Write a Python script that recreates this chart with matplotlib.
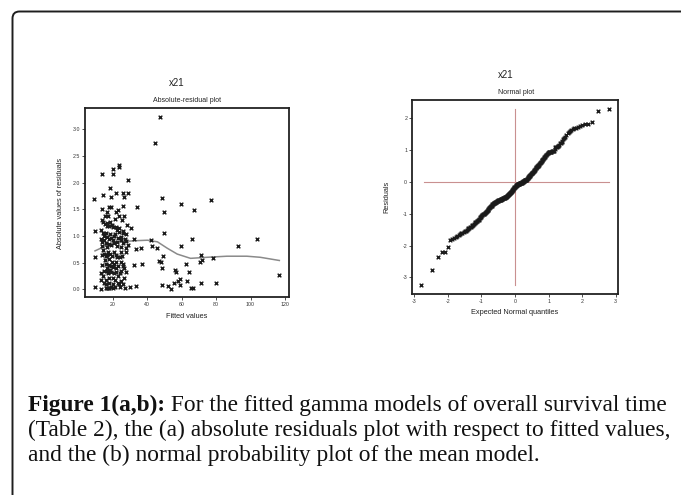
import matplotlib
matplotlib.use("Agg")
import matplotlib.pyplot as plt
from matplotlib.path import Path
from matplotlib.patches import PathPatch
from statistics import NormalDist

# ---------------- data: (a) absolute residuals vs fitted values ----------------
fitted_values = [
    47.5, 44.8, 9.4, 77.1, 48.5, 59.4, 50.0, 67.3, 34.4, 49.6,
    28.7, 23.5, 23.8, 20.2, 20.4, 14.0, 18.5, 14.4, 19.2, 21.9,
    26.3, 29.2, 26.7, 26.3, 18.1, 19.0, 14.0, 22.9, 21.9, 16.7,
    15.4, 17.1, 26.7, 23.5, 21.5, 13.8, 14.6, 18.7, 25.6, 18.1,
    16.9, 28.5, 30.6, 13.1, 10.0, 20.4, 21.9, 14.4, 16.2, 18.3,
    21.2, 23.5, 25.8, 27.9, 13.3, 13.7, 15.2, 17.7, 20.2, 22.3,
    24.8, 27.7, 32.3, 42.5, 59.4, 65.8, 92.7, 104.0, 16.5, 19.0,
    24.8, 28.7, 42.9, 46.0, 36.3, 33.7, 14.6, 17.1, 21.0, 24.8,
    27.7, 13.8, 16.2, 18.7, 21.9, 24.4, 10.0, 49.2, 71.3, 78.5,
    15.4, 17.9, 19.4, 21.9, 24.8, 47.1, 48.1, 71.9, 70.4, 14.0,
    17.7, 21.0, 26.3, 32.3, 37.1, 62.7, 16.5, 18.7, 21.9, 26.7,
    48.5, 56.0, 13.5, 17.5, 21.0, 24.4, 27.7, 56.5, 64.4, 14.4,
    17.7, 20.0, 22.9, 26.7, 59.2, 13.5, 16.3, 21.3, 24.8, 57.7,
    63.3, 116.7, 9.8, 13.0, 16.7, 17.5, 19.0, 21.5, 24.2, 30.0,
    33.5, 48.8, 51.9, 53.7, 55.6, 59.0, 65.6, 66.7, 71.5, 80.0,
    16.3, 22.9,
    15.5, 17.0, 19.5, 22.5, 24.0, 26.0, 14.8, 16.8, 19.2, 21.0,
    23.0, 25.0, 27.0, 13.9, 15.9, 18.0, 20.6, 22.8, 26.0, 28.0,
    15.0, 17.0, 19.6, 22.6, 25.5, 16.0, 18.8, 20.5, 23.2, 26.0,
    15.0, 17.0, 19.3, 22.0, 25.0, 14.8, 18.0, 20.0, 23.5, 26.0,
    16.0, 18.2, 20.5, 27.2,
]
abs_residuals = [
    3.23, 2.74, 1.69, 1.67, 1.72, 1.59, 1.44, 1.49, 1.54, 1.05,
    2.05, 2.33, 2.30, 2.25, 2.17, 2.16, 1.90, 1.76, 1.74, 1.80,
    1.80, 1.80, 1.73, 1.56, 1.55, 1.55, 1.50, 1.48, 1.45, 1.45,
    1.38, 1.37, 1.38, 1.37, 1.32, 1.29, 1.27, 1.27, 1.30, 1.19,
    1.19, 1.21, 1.14, 1.12, 1.09, 1.17, 1.17, 1.06, 1.05, 1.03,
    1.04, 1.07, 1.05, 1.04, 0.94, 0.89, 0.92, 0.94, 0.92, 0.89,
    0.92, 0.91, 0.94, 0.92, 0.82, 0.94, 0.81, 0.95, 0.80, 0.83,
    0.80, 0.83, 0.81, 0.77, 0.77, 0.75, 0.74, 0.70, 0.70, 0.70,
    0.69, 0.64, 0.62, 0.66, 0.64, 0.61, 0.60, 0.62, 0.64, 0.59,
    0.54, 0.56, 0.52, 0.52, 0.52, 0.53, 0.51, 0.54, 0.52, 0.46,
    0.46, 0.47, 0.47, 0.46, 0.47, 0.47, 0.39, 0.36, 0.39, 0.39,
    0.39, 0.37, 0.30, 0.30, 0.30, 0.30, 0.32, 0.32, 0.32, 0.24,
    0.22, 0.21, 0.24, 0.21, 0.20, 0.17, 0.17, 0.17, 0.16, 0.15,
    0.15, 0.26, 0.05, 0.00, 0.02, 0.02, 0.05, 0.05, 0.05, 0.05,
    0.06, 0.08, 0.06, 0.01, 0.11, 0.08, 0.03, 0.03, 0.11, 0.11,
    0.09, 0.11,
    1.22, 1.25, 1.20, 1.12, 1.15, 1.10, 1.00, 0.98, 0.97, 0.99,
    0.96, 0.98, 0.95, 0.82, 0.86, 0.85, 0.87, 0.82, 0.86, 0.78,
    0.66, 0.64, 0.62, 0.60, 0.63, 0.48, 0.44, 0.42, 0.44, 0.43,
    0.34, 0.34, 0.33, 0.33, 0.35, 0.12, 0.12, 0.10, 0.09, 0.10,
    0.03, 0.03, 0.02, 0.03,
]
# smoothed curve
smooth_x = [9.8, 17.1, 24.8, 32.5, 40.2, 46.0, 51.7, 57.5, 65.2, 74.8, 86.3, 97.9, 105.6, 116.7]
smooth_y = [0.72, 0.83, 0.89, 0.91, 0.92, 0.89, 0.77, 0.66, 0.58, 0.60, 0.62, 0.62, 0.60, 0.54]

# ---------------- data: (b) sorted residuals for the normal plot ----------------
residuals_sorted = [
    -3.25, -2.75, -2.35, -2.19, -2.19, -2.04, -1.82, -1.79, -1.77, -1.73,
    -1.70, -1.67, -1.63, -1.61, -1.59, -1.57, -1.55, -1.53, -1.51, -1.49,
    -1.46, -1.44, -1.42, -1.40, -1.37, -1.36, -1.34, -1.31, -1.29, -1.27,
    -1.25, -1.23, -1.21, -1.19, -1.18, -1.16, -1.14, -1.11, -1.09, -1.07,
    -1.05, -1.04, -1.02, -1.01, -0.99, -0.98, -0.96, -0.95, -0.93, -0.92,
    -0.90, -0.88, -0.87, -0.85, -0.83, -0.81, -0.80, -0.78, -0.76, -0.75,
    -0.74, -0.72, -0.70, -0.69, -0.68, -0.67, -0.66, -0.66, -0.65, -0.64,
    -0.63, -0.63, -0.62, -0.61, -0.61, -0.60, -0.59, -0.58, -0.58, -0.57,
    -0.57, -0.56, -0.56, -0.55, -0.54, -0.54, -0.53, -0.52, -0.52, -0.51,
    -0.51, -0.50, -0.50, -0.49, -0.49, -0.48, -0.48, -0.47, -0.47, -0.46,
    -0.45, -0.44, -0.43, -0.42, -0.41, -0.40, -0.38, -0.37, -0.36, -0.35,
    -0.34, -0.33, -0.32, -0.31, -0.30, -0.29, -0.27, -0.26, -0.24, -0.22,
    -0.21, -0.20, -0.18, -0.17, -0.15, -0.14, -0.13, -0.11, -0.10, -0.09,
    -0.08, -0.08, -0.07, -0.07, -0.06, -0.06, -0.05, -0.05, -0.04, -0.04,
    -0.03, -0.03, -0.02, -0.02, -0.02, -0.01, 0.00, 0.01, 0.01, 0.02,
    0.03, 0.03, 0.04, 0.05, 0.05, 0.06, 0.07, 0.07, 0.08, 0.09,
    0.11, 0.12, 0.14, 0.15, 0.16, 0.18, 0.19, 0.20, 0.22, 0.23,
    0.25, 0.26, 0.27, 0.29, 0.30, 0.32, 0.33, 0.35, 0.36, 0.38,
    0.39, 0.41, 0.43, 0.44, 0.46, 0.47, 0.49, 0.50, 0.52, 0.54,
    0.55, 0.57, 0.59, 0.61, 0.62, 0.64, 0.66, 0.68, 0.70, 0.72,
    0.74, 0.76, 0.78, 0.80, 0.82, 0.84, 0.86, 0.88, 0.90, 0.92,
    0.93, 0.93, 0.94, 0.95, 0.95, 0.96, 0.97, 0.97, 0.98, 0.99,
    1.05, 1.09, 1.10, 1.11, 1.12, 1.14, 1.18, 1.22, 1.24, 1.27,
    1.30, 1.36, 1.40, 1.43, 1.49, 1.53, 1.57, 1.60, 1.63, 1.66,
    1.69, 1.71, 1.73, 1.76, 1.79, 1.81, 1.84, 1.90, 2.24, 2.30,
]
n_res = len(residuals_sorted)
expected_quantiles = [NormalDist().inv_cdf((i + 1 - 0.375) / (n_res + 0.25)) for i in range(n_res)]

left_xticks = [20, 40, 60, 80, 100, 120]
left_yticks = [0.0, 0.5, 1.0, 1.5, 2.0, 2.5, 3.0]
right_xticks = [-3, -2, -1, 0, 1, 2, 3]
right_yticks = [-3, -2, -1, 0, 1, 2]

caption_bold = "Figure 1(a,b):"
caption_line1 = " For the fitted gamma models of overall survival time"
caption_line2 = "(Table 2), the (a) absolute residuals plot with respect to fitted values,"
caption_line3 = "and the (b) normal probability plot of the mean model."

# ---------------- figure ----------------
W, H = 681, 495
fig = plt.figure(figsize=(W / 100, H / 100), dpi=100)
fig.patch.set_facecolor("white")
plt.rcParams["font.family"] = ["Liberation Sans", "DejaVu Sans"]

def fx(px):
    return px / W

def fy(py):
    return 1 - py / H

def make_axes(l, t, r, b):
    return fig.add_axes([fx(l), fy(b), (r - l) / W, (b - t) / H])

def style_axes(ax):
    for s in ax.spines.values():
        s.set_linewidth(1.3)
        s.set_color("#222222")
    ax.tick_params(direction="out", length=2, width=0.6, labelsize=3.8,
                   colors="#333333", pad=1.5)

ink = "#1a1a1a"

# (a)
ax1 = make_axes(85, 108, 289, 297)
ax1.scatter(fitted_values, abs_residuals, marker="x", s=7, linewidths=1.0, color=ink, zorder=3)
ax1.plot(smooth_x, smooth_y, color="#8a8a8a", lw=1.1, zorder=2)
ax1.set_xlim(4, 122.3)
ax1.set_ylim(-0.145, 3.4)
ax1.set_xticks(left_xticks)
ax1.set_xticklabels([str(v) for v in left_xticks])
ax1.set_yticks(left_yticks)
ax1.set_yticklabels([f"{v:.1f}" for v in left_yticks])
style_axes(ax1)

# (b)
ax2 = make_axes(412, 100, 618, 294)
ax2.plot([-2.7, 2.8], [0, 0], color="#c99090", lw=0.8, zorder=1)
ax2.plot([0, 0], [-3.24, 2.3], color="#c99090", lw=0.8, zorder=1)
ax2.scatter(expected_quantiles, residuals_sorted, marker="x", s=7, linewidths=1.0, color=ink, zorder=3)
ax2.set_xlim(-3.07, 3.07)
ax2.set_ylim(-3.52, 2.58)
ax2.set_xticks(right_xticks)
ax2.set_xticklabels([str(v) for v in right_xticks])
ax2.set_yticks(right_yticks)
ax2.set_yticklabels([str(v) for v in right_yticks])
style_axes(ax2)

# titles and labels (pixel positions)
txt = dict(color="#222222", ha="center", va="center")
fig.text(fx(177), fy(83), "x21", fontsize=7, **txt)
fig.text(fx(187), fy(100), "Absolute-residual plot", fontsize=5, **txt)
fig.text(fx(187), fy(316), "Fitted values", fontsize=5.3, **txt)
fig.text(fx(60), fy(203), "Absolute values of residuals", fontsize=5.3, rotation=90, **txt)

fig.text(fx(506), fy(75), "x21", fontsize=7, **txt)
fig.text(fx(516), fy(92), "Normal plot", fontsize=5, **txt)
fig.text(fx(515), fy(313), "Expected Normal quantiles", fontsize=5.3, **txt)
fig.text(fx(387), fy(197), "Residuals", fontsize=5.3, rotation=90, **txt)

# frame with rounded top-left corner (pixel coordinates -> inches)
r = 7
L, T = 12.5, 11.5
def P(x, y):
    return (x / 100, (H - y) / 100)
verts = [P(L, H + 5), P(L, T + r), P(L, T), P(L + r, T), P(W + 5, T)]
codes = [Path.MOVETO, Path.LINETO, Path.CURVE3, Path.CURVE3, Path.LINETO]
frame = PathPatch(Path(verts, codes), transform=fig.dpi_scale_trans,
                  fill=False, lw=1.4, edgecolor="#1e1e1e", clip_on=False)
fig.add_artist(frame)

# caption
cap_font = ["Liberation Serif", "DejaVu Serif"]
renderer = fig.canvas.get_renderer()
fs = 13.0
x0 = 28
t_b = fig.text(fx(x0), fy(405), caption_bold, fontsize=fs, fontweight="bold",
               family=cap_font, ha="left", va="center", color="#111111")
bw = t_b.get_window_extent(renderer).width
t1 = fig.text(fx(x0 + bw), fy(405), caption_line1, fontsize=fs, family=cap_font,
              ha="left", va="center", color="#111111")
t2 = fig.text(fx(x0), fy(430), caption_line2, fontsize=fs, family=cap_font,
              ha="left", va="center", color="#111111")
# fit the widest line to the target right edge
w1 = bw + t1.get_window_extent(renderer).width
w2 = t2.get_window_extent(renderer).width
scale = (668 - x0) / max(w1, w2)
fs2 = fs * scale
t_b.set_fontsize(fs2)
t1.set_fontsize(fs2)
t2.set_fontsize(fs2)
bw = t_b.get_window_extent(renderer).width
t1.set_x(fx(x0 + bw))
fig.text(fx(x0), fy(455), caption_line3, fontsize=fs2, family=cap_font,
         ha="left", va="center", color="#111111")

fig.savefig("out.png", dpi=100, facecolor="white")
